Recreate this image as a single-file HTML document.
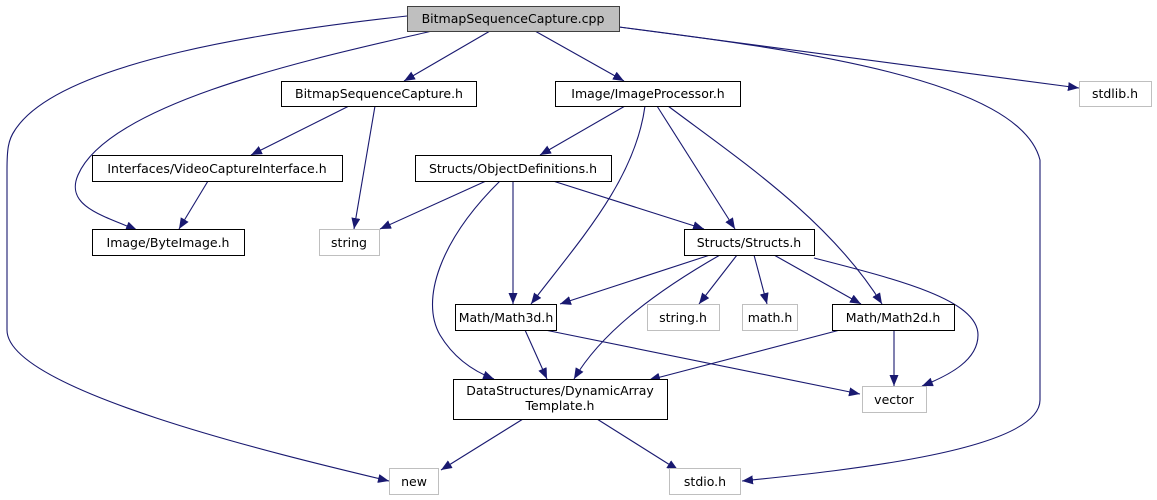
<!DOCTYPE html>
<html><head><meta charset="utf-8"><style>
html,body{margin:0;padding:0;background:#fff;}
svg{display:block;}
text{font-family:"DejaVu Sans","Liberation Sans",sans-serif;font-size:12.5px;fill:#000;}
</style></head><body>
<svg width="1157" height="500" viewBox="0 0 1157 500" xmlns="http://www.w3.org/2000/svg">
<defs>
<marker id="a" markerUnits="userSpaceOnUse" markerWidth="12" markerHeight="10" refX="11" refY="4.5" orient="auto">
<path d="M0,0 L11,4.5 L0,9 Z" fill="#191970"/>
</marker>
</defs>
<g fill="none" stroke="#191970" stroke-width="1.1" marker-end="url(#a)">
<path d="M407,16 C280,30 60,60 15,130 C8,140 7,150 7,170 L7,330 C7,390 280,455 389,481"/>
<path d="M432,31 C330,55 110,100 78,175 C65,205 100,215 137,230"/>
<path d="M490,31 L404,81"/>
<path d="M535,31 L624,81"/>
<path d="M619,27 L1079,88"/>
<path d="M619,27 C800,50 1020,80 1040,160 L1040,400 C1040,450 850,470 742,481"/>
<path d="M349,106 L251,155"/>
<path d="M375,106 L354,229"/>
<path d="M208,181 L179,229"/>
<path d="M625,106 L540,155"/>
<path d="M645,106 C635,180 580,240 531,304"/>
<path d="M657,106 L735,229"/>
<path d="M668,106 C740,160 830,220 882,304"/>
<path d="M486,181 L380,229"/>
<path d="M513,181 L513,304"/>
<path d="M500,181 C440,240 420,300 440,335 C452,355 470,370 494,379"/>
<path d="M553,181 L704,229"/>
<path d="M710,255 L560,304"/>
<path d="M720,255 C650,295 600,335 574,379"/>
<path d="M737,255 L699,304"/>
<path d="M754,255 L767,304"/>
<path d="M774,255 L861,304"/>
<path d="M814,258 C900,280 978,300 978,335 C978,360 950,375 922,386"/>
<path d="M525,330 L547,379"/>
<path d="M545,330 L860,394"/>
<path d="M840,330 L649,380"/>
<path d="M894,330 L894,386"/>
<path d="M523,419 L441,470"/>
<path d="M597,419 L678,470"/>
</g>
<g stroke-width="1">
<rect x="407.5" y="6.5" width="212" height="25" fill="#bfbfbf" stroke="#404040"/>
<rect x="281.5" y="81.5" width="195" height="25" fill="#fff" stroke="#000"/>
<rect x="555.5" y="81.5" width="185" height="25" fill="#fff" stroke="#000"/>
<rect x="1079.5" y="81.5" width="72" height="25" fill="#fff" stroke="#bfbfbf"/>
<rect x="92.5" y="155.5" width="250" height="26" fill="#fff" stroke="#000"/>
<rect x="415.5" y="155.5" width="196" height="26" fill="#fff" stroke="#000"/>
<rect x="92.5" y="229.5" width="152" height="26" fill="#fff" stroke="#000"/>
<rect x="319.5" y="229.5" width="60" height="26" fill="#fff" stroke="#bfbfbf"/>
<rect x="684.5" y="229.5" width="130" height="26" fill="#fff" stroke="#000"/>
<rect x="455.5" y="304.5" width="101" height="26" fill="#fff" stroke="#000"/>
<rect x="647.5" y="304.5" width="72" height="26" fill="#fff" stroke="#bfbfbf"/>
<rect x="742.5" y="304.5" width="55" height="26" fill="#fff" stroke="#bfbfbf"/>
<rect x="832.5" y="304.5" width="122" height="26" fill="#fff" stroke="#000"/>
<rect x="453.5" y="379.5" width="214" height="40" fill="#fff" stroke="#000"/>
<rect x="862.5" y="386.5" width="64" height="26" fill="#fff" stroke="#bfbfbf"/>
<rect x="389.5" y="468.5" width="49" height="26" fill="#fff" stroke="#bfbfbf"/>
<rect x="669.5" y="468.5" width="71" height="26" fill="#fff" stroke="#bfbfbf"/>
</g>
<g text-anchor="middle">
<text x="513" y="23">BitmapSequenceCapture.cpp</text>
<text x="379" y="98">BitmapSequenceCapture.h</text>
<text x="648" y="98">Image/ImageProcessor.h</text>
<text x="1115" y="98">stdlib.h</text>
<text x="217" y="173">Interfaces/VideoCaptureInterface.h</text>
<text x="513" y="173">Structs/ObjectDefinitions.h</text>
<text x="168" y="247">Image/ByteImage.h</text>
<text x="349" y="247">string</text>
<text x="749" y="247">Structs/Structs.h</text>
<text x="506" y="322">Math/Math3d.h</text>
<text x="683" y="322">string.h</text>
<text x="770" y="322">math.h</text>
<text x="893" y="322">Math/Math2d.h</text>
<text x="560" y="395">DataStructures/DynamicArray</text>
<text x="560" y="410">Template.h</text>
<text x="894" y="404">vector</text>
<text x="414" y="486">new</text>
<text x="705" y="486">stdio.h</text>
</g>
</svg>
</body></html>
